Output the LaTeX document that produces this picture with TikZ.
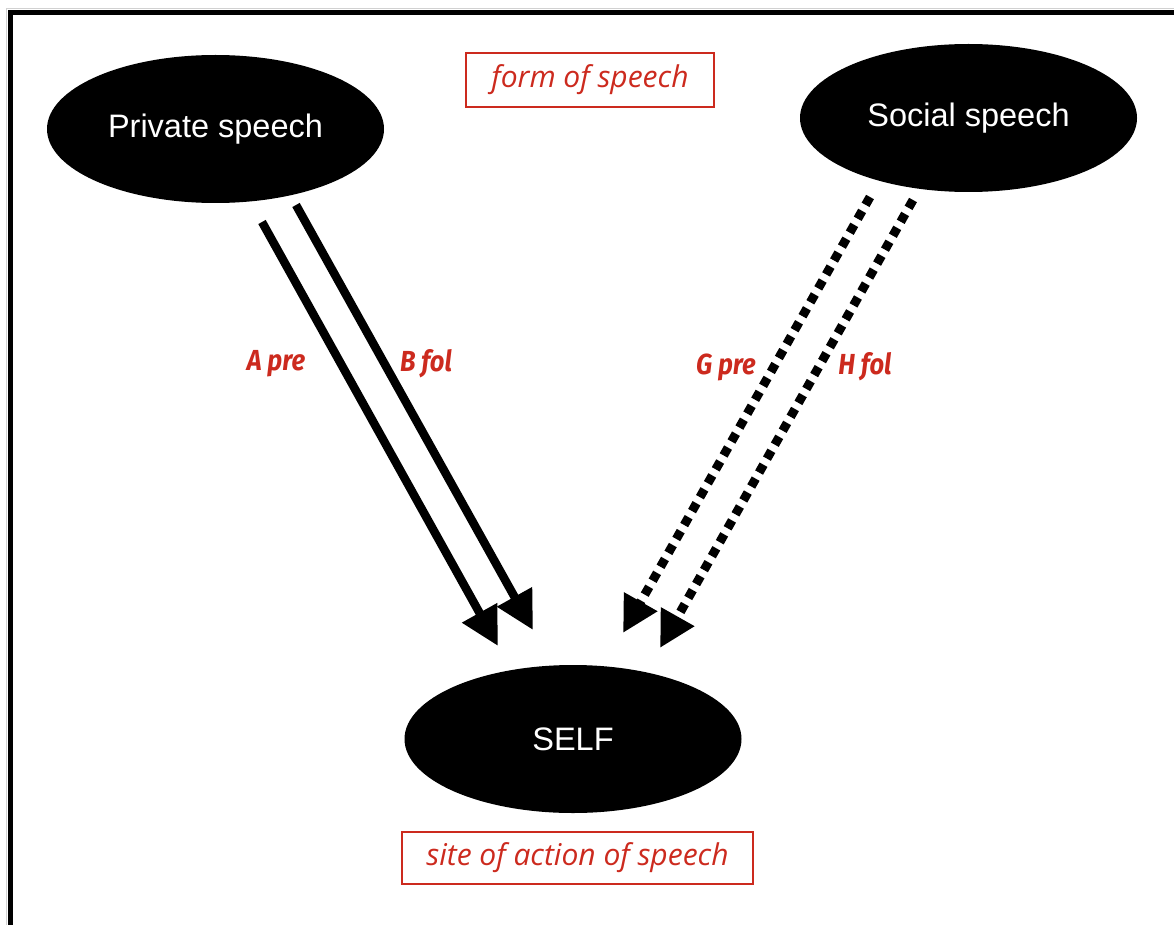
\documentclass[tikz,border=0pt]{standalone}
\usepackage{fontspec}
\setmainfont{Liberation Sans}
\newfontfamily\redfont{Open Sans}
\newfontfamily\labfont[FakeStretch=0.88]{Fira Sans}
\usetikzlibrary{arrows.meta,shapes.geometric}
\definecolor{redc}{HTML}{CC2A1E}
\begin{document}
\begin{tikzpicture}[x=1pt,y=-1pt,
  blob/.style={ellipse,fill=black,text=white,inner sep=0pt,
    minimum width=337pt,minimum height=148pt,font=\fontsize{32.5}{38}\selectfont},
  redbox/.style={draw=redc,line width=2pt,text=redc,inner sep=0pt,
    font=\redfont\itshape\fontsize{30}{34}\selectfont},
  lab/.style={text=redc,inner sep=0pt,font=\labfont\bfseries\itshape\fontsize{29}{32}\selectfont},
  solidarr/.style={line width=8.5pt,-{Triangle[length=38pt,width=38pt]}},
  dotarr/.style={line width=9pt,dash pattern=on 9pt off 7pt,-{Triangle[length=36pt,width=36pt]}}]
\useasboundingbox (0,0) rectangle (1174,925);
\draw[line width=1.5pt,black!18] (6.5,930) -- (6.5,8.5) -- (1180,8.5);
\draw[line width=5pt] (10.5,930) -- (10.5,12.5) -- (1180,12.5);
\node[blob] (priv) at (215.5,129) {Private speech};
\node[blob] (soc) at (968.5,118) {Social speech};
\node[blob] (self) at (573,739) {SELF};
\node[redbox,minimum width=248pt,minimum height=54pt] (form) at (590,80) {\raisebox{-2pt}{form of speech}};
\node[redbox,minimum width=351pt,minimum height=52pt] (site) at (577.5,858) {\raisebox{-2pt}{site of action of speech}};
\coordinate (a0) at (262,222); \coordinate (a1) at (498,646);
\coordinate (b0) at (296,205); \coordinate (b1) at (533,630);
\coordinate (g0) at (870,197); \coordinate (g1) at (623,633);
\coordinate (h0) at (913,200); \coordinate (h1) at (660,648);
\draw[solidarr] (a0) -- (a1);
\draw[solidarr] (b0) -- (b1);
\draw[dotarr] (g0) -- (g1);
\draw[dotarr] (h0) -- (h1);
\node[lab] (apre) at (276,364) {A pre};
\node[lab] (bfol) at (426,364) {B fol};
\node[lab] (gpre) at (726,367) {G pre};
\node[lab] (hfol) at (865,367) {H fol};
\end{tikzpicture}
\end{document}
